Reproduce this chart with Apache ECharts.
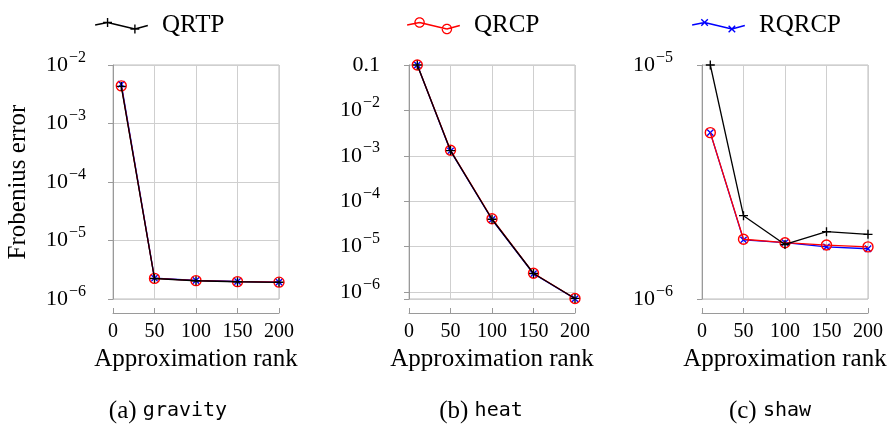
<!DOCTYPE html>
<html><head><meta charset="utf-8">
<script src="https://cdn.jsdelivr.net/npm/echarts@6/dist/echarts.min.js"></script>
<style>html,body{margin:0;padding:0;background:#fff}#c{width:894px;height:429px}</style>
</head><body><div id="c"></div>
<script>
// ---------- data ----------
const ranks = [10, 50, 100, 150, 200];
const xTicks = [0, 50, 100, 150, 200];
const seriesNames = ['QRTP', 'QRCP', 'RQRCP'];
const panelLetters = ['(a)', '(b)', '(c)'];
const panelNames = ['gravity', 'heat', 'shaw'];
const xAxisName = 'Approximation rank';
const yAxisName = 'Frobenius error';

const gravityQRTP  = [4.3e-3, 2.24e-6, 2.05e-6, 1.97e-6, 1.93e-6];
const gravityQRCP  = [4.4e-3, 2.25e-6, 2.06e-6, 1.98e-6, 1.94e-6];
const gravityRQRCP = [4.7e-3, 2.27e-6, 2.07e-6, 1.99e-6, 1.94e-6];

const heatQRTP  = [0.1, 1.30e-3, 4.0e-5, 2.55e-6, 7.2e-7];
const heatQRCP  = [0.1, 1.32e-3, 4.1e-5, 2.58e-6, 7.2e-7];
const heatRQRCP = [0.1, 1.28e-3, 3.95e-5, 2.52e-6, 7.1e-7];

const shawQRTP  = [1.0e-5, 2.27e-6, 1.71e-6, 1.94e-6, 1.89e-6];
const shawQRCP  = [5.14e-6, 1.80e-6, 1.74e-6, 1.70e-6, 1.67e-6];
const shawRQRCP = [5.14e-6, 1.79e-6, 1.74e-6, 1.67e-6, 1.64e-6];

const yMins = [1e-6, 7e-7, 1e-6];
const yMaxs = [1e-2, 0.1, 1e-5];

const panelData = [
  [gravityQRTP, gravityQRCP, gravityRQRCP],
  [heatQRTP, heatQRCP, heatRQRCP],
  [shawQRTP, shawQRCP, shawRQRCP]
];

// ---------- styling ----------
const SERIF = '"Liberation Serif", "DejaVu Serif", serif';
const MONO = '"DejaVu Sans Mono", "Liberation Mono", monospace';
const colors = ['#000000', '#ff0000', '#0000ff'];
const gridLefts = [113, 409, 702];
const yOffsets = [11, 13, 13];
const capX = [163, 476, 765];
const legendLefts = [90, 402, 687];

const PLUS = 'path://M-4,-0.6H4V0.6H-4Z M-0.6,-4H0.6V4H-0.6Z';

// legend icon building (filled polygons, nonzero rule)
function area(p){let a=0;for(let i=0;i<p.length;i++){const q=p[(i+1)%p.length];a+=p[i][0]*q[1]-q[0]*p[i][1];}return a/2;}
function poly(p, hole){ if ((area(p) > 0) === !!hole) p = p.slice().reverse();
  return 'M' + p.map(v => v[0].toFixed(2) + ',' + v[1].toFixed(2)).join(' L') + ' Z '; }
function seg(a, b, t){ const dx=b[0]-a[0], dy=b[1]-a[1], l=Math.hypot(dx,dy); const nx=-dy/l*t, ny=dx/l*t;
  return poly([[a[0]+nx,a[1]+ny],[b[0]+nx,b[1]+ny],[b[0]-nx,b[1]-ny],[a[0]-nx,a[1]-ny]]); }
function circ(c, r, hole){ const p=[]; for(let i=0;i<28;i++){const t=i/28*Math.PI*2;p.push([c[0]+r*Math.cos(t),c[1]+r*Math.sin(t)]);} return poly(p, hole); }
function iconPath(kind){
  const P = [[0,8.5],[12.5,6],[40,12.5],[53,9]];
  let s = 'M0,0 L0.05,0 L0,0.05 Z M53,18 L52.95,18 L53,17.95 Z ';
  for (let i=0;i<3;i++) s += seg(P[i], P[i+1], 0.7);
  [P[1], P[2]].forEach(c => {
    if (kind === 0) { s += seg([c[0]-4.5,c[1]],[c[0]+4.5,c[1]],0.7) + seg([c[0],c[1]-4.5],[c[0],c[1]+4.5],0.7); }
    else if (kind === 1) { s += circ(c, 5.3, false) + circ(c, 4.0, true); }
    else { const a=3.3; s += seg([c[0]-a,c[1]-a],[c[0]+a,c[1]+a],0.7) + seg([c[0]-a,c[1]+a],[c[0]+a,c[1]-a],0.7); }
  });
  return 'path://' + s;
}

function yFormatter(panel){
  return function(v){
    const e = Math.log10(v); const r = Math.round(e);
    if (Math.abs(e - r) > 1e-6) return '';
    if (panel === 1 && r === -1) return '0.1';
    return '10{s|\u2212' + Math.abs(r) + '}';
  };
}

const grids = [], xAxes = [], yAxes = [], series = [], titles = [], legends = [];
for (let i = 0; i < 3; i++) {
  grids.push({left: gridLefts[i], top: 65, width: 166, height: 234, show: true, borderColor: '#bdbdbd', borderWidth: 1, containLabel: false});
  xAxes.push({
    type: 'value', gridIndex: i, min: xTicks[0], max: xTicks[xTicks.length-1], interval: 50, offset: 14,
    name: xAxisName, nameLocation: 'middle', nameGap: 32,
    nameTextStyle: {fontFamily: SERIF, fontSize: 25, color: '#000'},
    axisLine: {show: true, lineStyle: {color: '#9a9a9a', width: 1}},
    axisTick: {show: true, inside: true, length: 5, lineStyle: {color: '#9a9a9a'}},
    axisLabel: {fontFamily: SERIF, fontSize: 20, color: '#000', margin: 9},
    splitLine: {show: true, lineStyle: {color: '#cfcfcf', width: 1}}
  });
  yAxes.push({
    type: 'log', logBase: 10, gridIndex: i, min: yMins[i], max: yMaxs[i], offset: yOffsets[i],
    name: i === 0 ? yAxisName : '', nameLocation: 'middle', nameGap: 71, nameRotate: 90,
    nameTextStyle: {fontFamily: SERIF, fontSize: 25, color: '#000'},
    axisLine: {show: true, lineStyle: {color: '#9a9a9a', width: 1}},
    axisTick: {show: true, inside: false, length: 5, lineStyle: {color: '#9a9a9a'}},
    minorTick: {show: false}, minorSplitLine: {show: false},
    axisLabel: {fontFamily: SERIF, fontSize: 22, color: '#000', margin: 16, formatter: yFormatter(i),
      rich: {s: {fontFamily: SERIF, fontSize: 16, color: '#000', padding: [0, 0, 15, 1]}}},
    splitLine: {show: true, lineStyle: {color: '#cfcfcf', width: 1}}
  });
  // draw order: RQRCP, QRCP, QRTP (QRTP on top)
  [2, 1, 0].forEach(k => {
    const s = {
      name: seriesNames[k], type: 'line', xAxisIndex: i, yAxisIndex: i,
      data: ranks.map((x, j) => [x, panelData[i][k][j]]),
      lineStyle: {color: colors[k], width: 1.3}, z: 3 + (2 - k),
      emphasis: {disabled: true}, animation: false, clip: false
    };
    if (k === 0) { s.symbol = PLUS; s.symbolSize = 9; s.itemStyle = {color: colors[0]}; }
    else if (k === 1) { s.symbol = 'circle'; s.symbolSize = 10; s.itemStyle = {color: 'rgba(0,0,0,0)', borderColor: colors[1], borderWidth: 1.4}; }
    else { s.symbol = PLUS; s.symbolRotate = 45; s.symbolSize = 9; s.itemStyle = {color: colors[2]}; }
    series.push(s);
  });
  titles.push({
    text: '{r|' + panelLetters[i] + '} {m|' + panelNames[i] + '}',
    left: capX[i], top: 406, textAlign: 'center', textVerticalAlign: 'middle',
    textStyle: {fontFamily: SERIF, fontSize: 25, fontWeight: 'normal', color: '#000',
      rich: {r: {fontFamily: SERIF, fontSize: 25, fontWeight: 'normal', color: '#000'},
             m: {fontFamily: MONO, fontSize: 20, fontWeight: 'normal', color: '#000'}}}
  });
  legends.push({
    left: legendLefts[i], top: 8, orient: 'horizontal', selectedMode: false,
    itemWidth: 53, itemHeight: 18, symbolKeepAspect: false,
    data: [{name: seriesNames[i], icon: iconPath(i), itemStyle: {color: colors[i], borderWidth: 0}}],
    textStyle: {fontFamily: SERIF, fontSize: 25, color: '#000', padding: [0, 0, 0, 9]}
  });
}

const chart = echarts.init(document.getElementById('c'), null, {renderer: 'canvas'});
chart.setOption({
  animation: false, backgroundColor: '#fff',
  title: titles, legend: legends, grid: grids, xAxis: xAxes, yAxis: yAxes, series: series
});
</script></body></html>
